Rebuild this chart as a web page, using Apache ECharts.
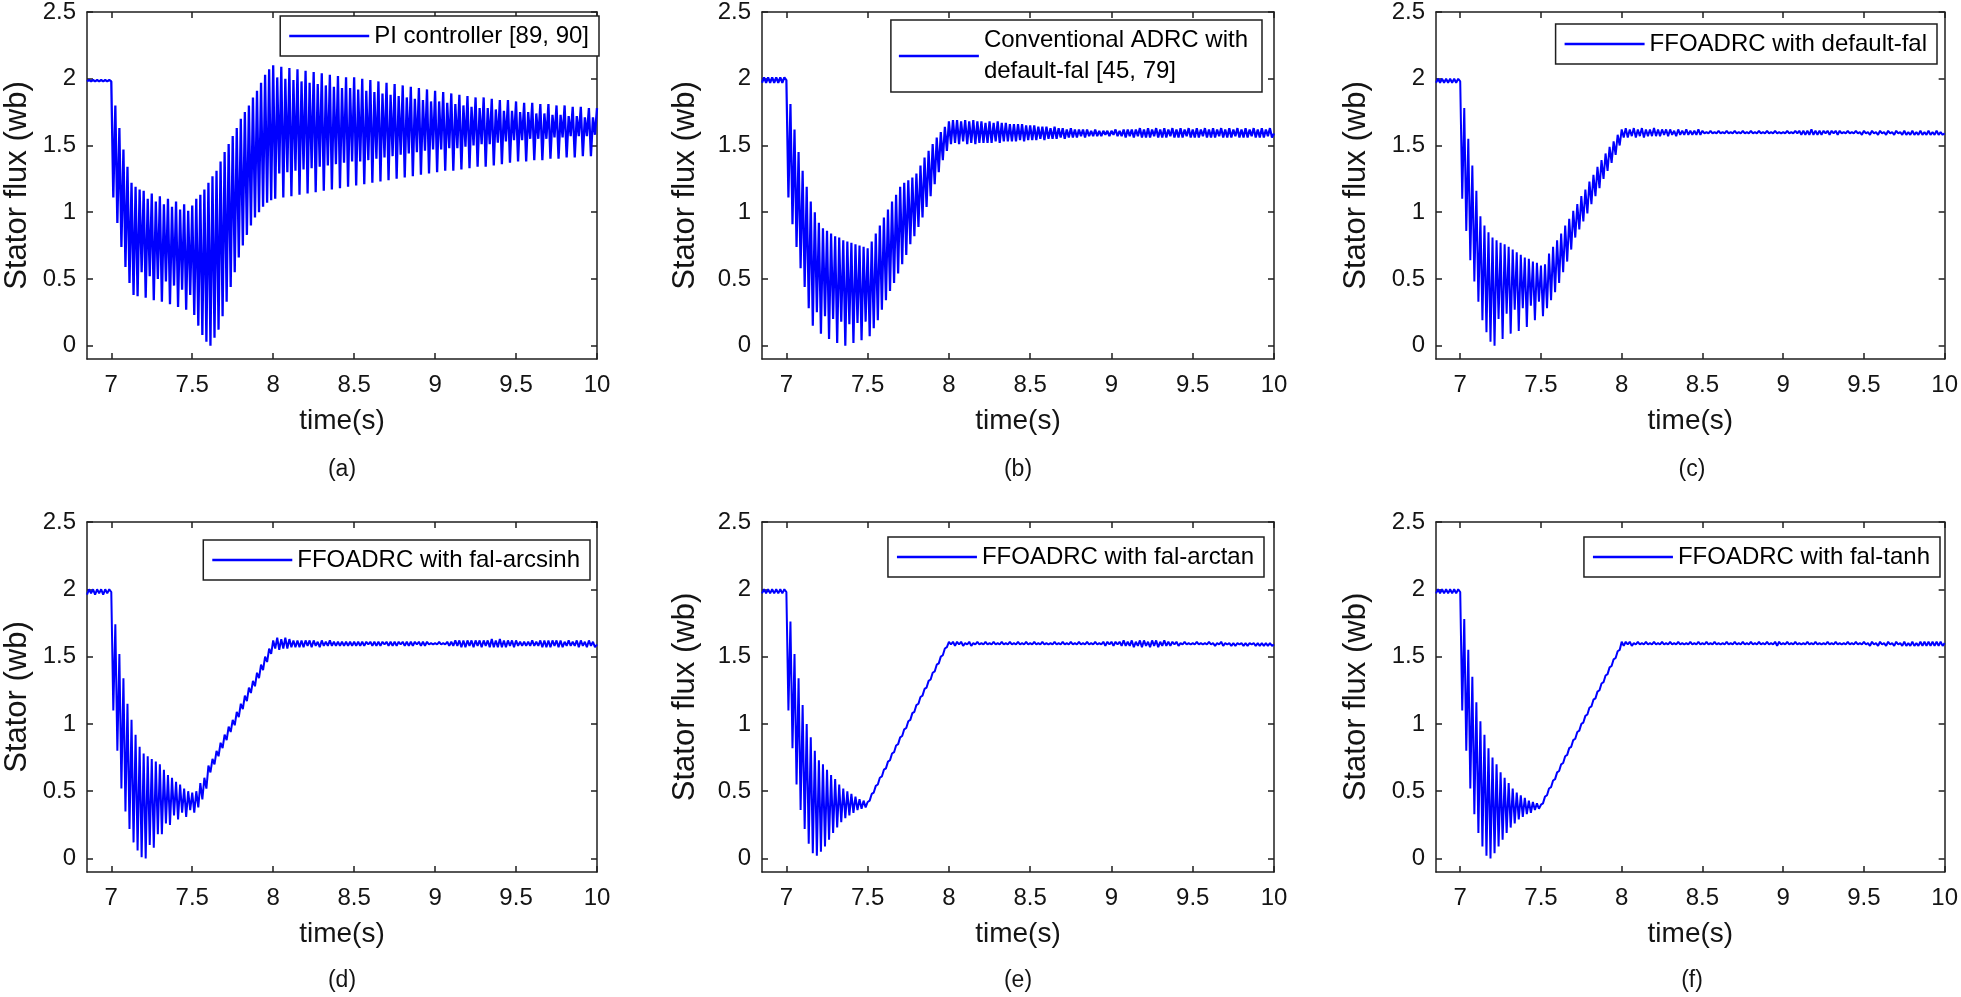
<!DOCTYPE html>
<html><head><meta charset="utf-8">
<script src="https://cdn.jsdelivr.net/npm/echarts@6/dist/echarts.min.js"></script>
<style>html,body{margin:0;padding:0;background:#fff}#c{width:1961px;height:997px}</style>
</head><body><div id="c"></div>
<script>
// ---- sampling of the time axis (s) ----
const sampleStart = 6.85, sampleStep = 0.0125;
const xTicks = [7, 7.5, 8, 8.5, 9, 9.5, 10];
const xTickLabels = ['7', '7.5', '8', '8.5', '9', '9.5', '10'];
const yTicks = [0, 0.5, 1, 1.5, 2, 2.5];
const yTickLabels = ['0', '0.5', '1', '1.5', '2', '2.5'];
const panelLabels = ['(a)', '(b)', '(c)', '(d)', '(e)', '(f)'];
const legendNames = ['PI controller [89, 90]', 'Conventional ADRC with\ndefault-fal [45, 79]', 'FFOADRC with default-fal',
  'FFOADRC with fal-arcsinh', 'FFOADRC with fal-arctan', 'FFOADRC with fal-tanh'];
const yNames = ['Stator flux (wb)', 'Stator flux (wb)', 'Stator flux (wb)', 'Stator (wb)', 'Stator flux (wb)', 'Stator flux (wb)'];
const xName = 'time(s)';

// ---- stator flux (wb), one value per sample ----
const fluxA = [
1.98,1.99,1.98,1.99,1.98,1.99,1.98,1.99,1.98,1.99,1.98,1.99,
1.98,1.11,1.80,0.92,1.63,0.74,1.47,0.59,1.34,0.47,
1.22,0.38,1.19,0.37,1.17,0.55,1.16,0.36,1.10,0.52,
1.14,0.34,1.08,0.50,1.12,0.33,1.06,0.48,1.10,0.31,
1.04,0.45,1.08,0.29,1.02,0.42,1.06,0.27,1.01,0.38,
1.05,0.23,1.10,0.15,1.13,0.08,1.17,0.03,1.22,0.00,
1.27,0.06,1.31,0.12,1.38,0.22,1.45,0.33,1.51,0.44,
1.57,0.55,1.63,0.66,1.70,0.75,1.75,0.83,1.80,0.90,
1.86,0.96,1.91,1.00,1.97,1.04,2.03,1.07,2.07,1.09,
2.10,1.10,2.01,1.29,2.09,1.11,2.00,1.30,2.08,1.12,
1.99,1.31,2.07,1.13,1.98,1.32,2.06,1.14,1.97,1.33,
2.05,1.15,1.96,1.34,2.04,1.16,1.95,1.35,2.03,1.17,
1.94,1.36,2.02,1.18,1.93,1.37,2.01,1.19,1.93,1.38,
2.01,1.20,1.92,1.38,2.00,1.21,1.91,1.39,1.99,1.22,
1.90,1.40,1.98,1.23,1.89,1.41,1.97,1.24,1.88,1.42,
1.96,1.25,1.87,1.43,1.95,1.26,1.86,1.44,1.94,1.27,
1.85,1.45,1.93,1.28,1.84,1.46,1.92,1.29,1.83,1.47,
1.91,1.30,1.83,1.47,1.90,1.31,1.82,1.48,1.89,1.31,
1.81,1.48,1.88,1.32,1.80,1.49,1.87,1.33,1.79,1.50,
1.86,1.34,1.78,1.51,1.86,1.34,1.78,1.51,1.85,1.35,
1.77,1.52,1.84,1.36,1.76,1.53,1.84,1.37,1.76,1.54,
1.83,1.38,1.75,1.54,1.82,1.38,1.75,1.55,1.82,1.39,
1.74,1.55,1.81,1.39,1.74,1.55,1.81,1.40,1.73,1.56,
1.80,1.40,1.73,1.56,1.80,1.41,1.72,1.57,1.79,1.41,
1.72,1.57,1.79,1.42,1.71,1.57,1.78,1.42,1.71,1.58,
1.78];
const fluxB = [
1.97,2.01,1.97,2.01,1.97,2.01,1.97,2.01,1.97,2.01,1.97,2.01,
1.99,1.11,1.81,0.91,1.62,0.74,1.45,0.58,1.31,0.44,
1.19,0.28,1.08,0.15,1.00,0.25,0.92,0.09,0.88,0.22,
0.86,0.05,0.84,0.20,0.82,0.02,0.81,0.18,0.79,0.00,
0.78,0.16,0.77,0.02,0.76,0.17,0.75,0.04,0.74,0.18,
0.73,0.07,0.78,0.13,0.84,0.19,0.90,0.27,0.96,0.34,
1.02,0.41,1.08,0.47,1.13,0.54,1.19,0.61,1.22,0.68,
1.24,0.76,1.26,0.82,1.29,0.89,1.35,0.96,1.41,1.04,
1.46,1.12,1.51,1.21,1.56,1.30,1.60,1.39,1.64,1.46,
1.68,1.51,1.69,1.52,1.69,1.51,1.68,1.53,1.69,1.51,
1.68,1.52,1.69,1.51,1.68,1.52,1.68,1.52,1.67,1.52,
1.68,1.52,1.67,1.53,1.68,1.52,1.67,1.53,1.67,1.53,
1.66,1.53,1.66,1.53,1.66,1.54,1.66,1.53,1.65,1.54,
1.65,1.54,1.65,1.54,1.64,1.55,1.64,1.54,1.64,1.55,
1.63,1.55,1.64,1.55,1.63,1.56,1.63,1.55,1.62,1.56,
1.63,1.56,1.62,1.56,1.62,1.57,1.62,1.56,1.62,1.57,
1.61,1.57,1.62,1.57,1.61,1.57,1.61,1.58,1.61,1.57,
1.61,1.58,1.62,1.57,1.61,1.57,1.62,1.56,1.62,1.57,
1.62,1.56,1.62,1.57,1.63,1.56,1.62,1.56,1.63,1.56,
1.62,1.57,1.63,1.56,1.62,1.56,1.63,1.56,1.62,1.57,
1.63,1.56,1.62,1.56,1.63,1.56,1.62,1.57,1.63,1.56,
1.62,1.56,1.63,1.56,1.62,1.57,1.63,1.56,1.62,1.56,
1.63,1.56,1.62,1.57,1.63,1.56,1.62,1.56,1.63,1.56,
1.62,1.57,1.63,1.56,1.62,1.56,1.63,1.56,1.62,1.57,
1.63,1.56,1.62,1.56,1.63,1.56,1.62,1.57,1.63,1.56,
1.59];
const fluxC = [
1.97,2.00,1.97,2.00,1.97,2.00,1.97,2.00,1.97,2.00,1.97,2.00,
1.98,1.10,1.78,0.86,1.55,0.64,1.35,0.48,1.16,0.33,
0.97,0.19,0.90,0.10,0.85,0.03,0.81,0.00,0.79,0.20,
0.77,0.05,0.76,0.24,0.74,0.09,0.72,0.27,0.70,0.11,
0.68,0.28,0.66,0.14,0.65,0.30,0.63,0.19,0.62,0.33,
0.60,0.22,0.61,0.28,0.69,0.34,0.74,0.40,0.79,0.47,
0.84,0.55,0.90,0.63,0.95,0.72,1.01,0.81,1.06,0.87,
1.12,0.93,1.17,0.99,1.23,1.06,1.28,1.12,1.34,1.18,
1.39,1.25,1.44,1.31,1.49,1.37,1.53,1.43,1.58,1.50,
1.62,1.56,1.63,1.56,1.62,1.57,1.63,1.56,1.62,1.57,
1.63,1.56,1.62,1.57,1.62,1.57,1.63,1.57,1.62,1.57,
1.62,1.58,1.62,1.57,1.62,1.58,1.61,1.57,1.62,1.58,
1.61,1.58,1.62,1.58,1.61,1.58,1.61,1.58,1.62,1.58,
1.61,1.59,1.60,1.59,1.61,1.59,1.60,1.59,1.61,1.59,
1.60,1.59,1.61,1.59,1.60,1.59,1.61,1.59,1.60,1.59,
1.61,1.59,1.60,1.59,1.61,1.59,1.60,1.59,1.61,1.59,
1.60,1.59,1.61,1.59,1.60,1.59,1.61,1.59,1.60,1.59,
1.60,1.59,1.61,1.59,1.60,1.59,1.61,1.59,1.61,1.58,
1.61,1.58,1.61,1.58,1.62,1.58,1.61,1.58,1.61,1.58,
1.61,1.59,1.61,1.58,1.61,1.59,1.61,1.58,1.61,1.59,
1.60,1.59,1.61,1.59,1.60,1.59,1.61,1.59,1.60,1.58,
1.61,1.59,1.60,1.58,1.61,1.59,1.60,1.58,1.61,1.59,
1.60,1.58,1.61,1.59,1.60,1.58,1.61,1.59,1.60,1.58,
1.61,1.58,1.60,1.58,1.61,1.58,1.60,1.58,1.61,1.58,
1.60,1.58,1.61,1.58,1.60,1.58,1.61,1.58,1.60,1.58,
1.59];
const fluxD = [
1.96,2.00,1.97,2.00,1.96,2.00,1.97,2.00,1.96,2.00,1.97,2.00,
1.98,1.10,1.74,0.80,1.52,0.52,1.34,0.35,1.15,0.22,
1.03,0.12,0.92,0.06,0.83,0.01,0.78,0.00,0.76,0.10,
0.74,0.08,0.72,0.18,0.70,0.18,0.66,0.26,0.62,0.25,
0.60,0.32,0.57,0.29,0.55,0.34,0.52,0.31,0.50,0.36,
0.49,0.34,0.50,0.38,0.56,0.44,0.60,0.52,0.69,0.64,
0.74,0.70,0.80,0.76,0.86,0.82,0.92,0.88,0.98,0.94,
1.03,0.99,1.09,1.05,1.15,1.11,1.21,1.17,1.27,1.23,
1.32,1.28,1.38,1.34,1.44,1.40,1.50,1.46,1.56,1.52,
1.62,1.56,1.64,1.55,1.63,1.56,1.64,1.56,1.63,1.57,
1.62,1.57,1.62,1.57,1.62,1.57,1.62,1.58,1.62,1.57,
1.62,1.58,1.61,1.57,1.62,1.58,1.61,1.58,1.62,1.58,
1.61,1.58,1.61,1.58,1.61,1.58,1.61,1.58,1.61,1.58,
1.61,1.58,1.61,1.58,1.61,1.58,1.61,1.59,1.61,1.58,
1.61,1.58,1.61,1.58,1.61,1.59,1.61,1.58,1.61,1.58,
1.61,1.58,1.61,1.59,1.61,1.58,1.61,1.58,1.61,1.58,
1.61,1.59,1.61,1.58,1.61,1.58,1.61,1.59,1.60,1.59,
1.60,1.59,1.61,1.59,1.60,1.59,1.61,1.58,1.61,1.58,
1.62,1.58,1.62,1.57,1.62,1.57,1.62,1.58,1.62,1.57,
1.62,1.58,1.62,1.57,1.62,1.58,1.62,1.57,1.63,1.57,
1.62,1.57,1.63,1.57,1.62,1.57,1.62,1.58,1.62,1.57,
1.62,1.58,1.61,1.58,1.61,1.58,1.61,1.58,1.62,1.58,
1.61,1.58,1.62,1.57,1.62,1.57,1.62,1.57,1.62,1.58,
1.62,1.57,1.62,1.57,1.61,1.58,1.62,1.58,1.61,1.58,
1.62,1.57,1.62,1.58,1.61,1.57,1.62,1.58,1.61,1.57,
1.59];
const fluxE = [
1.97,2.00,1.97,2.00,1.97,2.00,1.97,2.00,1.97,2.00,1.97,2.00,
1.98,1.10,1.76,0.82,1.52,0.55,1.34,0.36,1.14,0.22,
1.00,0.11,0.90,0.04,0.80,0.02,0.73,0.05,0.70,0.09,
0.66,0.14,0.62,0.19,0.59,0.23,0.55,0.27,0.52,0.30,
0.50,0.32,0.48,0.34,0.46,0.36,0.44,0.37,0.43,0.38,
0.42,0.43,0.48,0.49,0.54,0.55,0.60,0.61,0.66,0.67,
0.72,0.73,0.78,0.79,0.84,0.85,0.90,0.91,0.96,0.97,
1.02,1.03,1.08,1.09,1.14,1.15,1.20,1.21,1.26,1.27,
1.32,1.33,1.38,1.39,1.44,1.45,1.50,1.51,1.56,1.57,
1.61,1.59,1.61,1.58,1.61,1.59,1.61,1.58,1.60,1.59,
1.61,1.58,1.60,1.59,1.61,1.59,1.60,1.59,1.61,1.59,
1.60,1.59,1.61,1.59,1.60,1.59,1.61,1.59,1.60,1.59,
1.61,1.59,1.60,1.59,1.61,1.59,1.60,1.59,1.61,1.59,
1.60,1.59,1.61,1.59,1.60,1.59,1.61,1.59,1.60,1.59,
1.60,1.59,1.61,1.59,1.60,1.59,1.61,1.59,1.60,1.59,
1.61,1.59,1.60,1.59,1.61,1.59,1.60,1.59,1.61,1.59,
1.60,1.59,1.61,1.59,1.60,1.59,1.61,1.58,1.61,1.59,
1.61,1.58,1.61,1.59,1.61,1.58,1.62,1.58,1.61,1.58,
1.62,1.57,1.61,1.58,1.62,1.57,1.62,1.58,1.61,1.57,
1.62,1.58,1.62,1.57,1.61,1.58,1.62,1.58,1.61,1.58,
1.61,1.59,1.61,1.58,1.60,1.59,1.61,1.59,1.60,1.59,
1.60,1.59,1.61,1.59,1.60,1.59,1.60,1.59,1.61,1.59,
1.60,1.58,1.60,1.59,1.61,1.58,1.60,1.59,1.60,1.58,
1.60,1.58,1.60,1.59,1.60,1.58,1.60,1.58,1.60,1.59,
1.60,1.58,1.60,1.58,1.60,1.58,1.60,1.58,1.60,1.58,
1.59];
const fluxF = [
1.97,2.00,1.97,2.00,1.97,2.00,1.97,2.00,1.97,2.00,1.97,2.00,
1.98,1.10,1.78,0.80,1.55,0.52,1.35,0.33,1.16,0.19,
1.02,0.09,0.92,0.02,0.82,0.00,0.75,0.04,0.70,0.09,
0.64,0.14,0.60,0.19,0.56,0.23,0.52,0.26,0.49,0.29,
0.47,0.31,0.45,0.33,0.43,0.34,0.42,0.36,0.41,0.37,
0.40,0.41,0.46,0.47,0.52,0.53,0.58,0.59,0.64,0.65,
0.70,0.71,0.76,0.77,0.82,0.83,0.88,0.89,0.94,0.95,
1.00,1.01,1.06,1.07,1.12,1.13,1.18,1.19,1.24,1.25,
1.30,1.31,1.36,1.37,1.42,1.43,1.48,1.49,1.54,1.55,
1.61,1.58,1.61,1.59,1.61,1.58,1.60,1.59,1.61,1.59,
1.60,1.59,1.61,1.59,1.60,1.59,1.61,1.59,1.60,1.59,
1.61,1.59,1.60,1.59,1.61,1.59,1.60,1.59,1.61,1.59,
1.60,1.59,1.60,1.59,1.61,1.59,1.60,1.59,1.61,1.59,
1.60,1.59,1.61,1.59,1.60,1.59,1.61,1.59,1.60,1.59,
1.60,1.59,1.61,1.59,1.60,1.59,1.61,1.59,1.60,1.59,
1.61,1.59,1.60,1.59,1.61,1.59,1.60,1.59,1.61,1.59,
1.60,1.59,1.61,1.59,1.60,1.59,1.61,1.58,1.61,1.59,
1.60,1.59,1.61,1.59,1.60,1.59,1.61,1.59,1.60,1.59,
1.60,1.59,1.61,1.59,1.60,1.59,1.61,1.59,1.60,1.59,
1.60,1.59,1.61,1.59,1.60,1.59,1.61,1.59,1.60,1.59,
1.60,1.59,1.61,1.59,1.60,1.59,1.61,1.59,1.60,1.59,
1.61,1.59,1.60,1.58,1.61,1.59,1.60,1.58,1.61,1.59,
1.60,1.58,1.61,1.59,1.60,1.58,1.61,1.59,1.60,1.58,
1.61,1.58,1.60,1.58,1.61,1.58,1.60,1.58,1.61,1.58,
1.61,1.58,1.61,1.58,1.61,1.58,1.61,1.58,1.61,1.58,
1.60];
const fluxSeries = [fluxA, fluxB, fluxC, fluxD, fluxE, fluxF];

// ---- layout (pixels) and per-panel line width ----
const layout = [
  {l: 87,   t: 9,   w: 510, h: 350, lgR: 1362, lgT: 16,  yGap: 54, lab: [342, 470],  lw: 2.3},
  {l: 762,  t: 9,   w: 512, h: 350, lgR: 699,  lgT: 20,  yGap: 61, lab: [1018, 470], lw: 2.2},
  {l: 1436, t: 9,   w: 513, h: 350, lgR: 24,   lgT: 24,  yGap: 64, lab: [1692, 470], lw: 2.0},
  {l: 87,   t: 522, w: 510, h: 350, lgR: 1371, lgT: 540, yGap: 54, lab: [342, 981],  lw: 2.0},
  {l: 762,  t: 522, w: 512, h: 350, lgR: 697,  lgT: 537, yGap: 61, lab: [1018, 981], lw: 2.0},
  {l: 1436, t: 522, w: 513, h: 350, lgR: 21,   lgT: 537, yGap: 64, lab: [1692, 981], lw: 2.0}
];

const FONT = '"Liberation Sans", Arial, Helvetica, sans-serif';
const AX = '#1f1f1f';
const TXT = '#141414';
const LINE = '#0000ff';

const grids = [], xAxes = [], yAxes = [], series = [], legends = [], graphics = [];
layout.forEach((p, k) => {
  grids.push({left: p.l, top: p.t, width: p.w, height: p.h, containLabel: false});
  const axLine = {show: true, onZero: false, lineStyle: {color: AX, width: 1.5}};
  const xTick = {show: true, inside: true, length: 6, customValues: xTicks, lineStyle: {color: AX, width: 1.5}};
  const yTick = {show: true, inside: true, length: 6, customValues: yTicks, lineStyle: {color: AX, width: 1.5}};
  xAxes.push({
    type: 'value', gridIndex: k, position: 'bottom', min: 6.85, max: 10,
    axisLine: axLine, axisTick: xTick, splitLine: {show: false},
    axisLabel: {customValues: xTicks, formatter: v => xTickLabels[xTicks.indexOf(v)] ?? String(v),
      margin: 14, fontSize: 24, color: TXT, fontFamily: FONT},
    name: xName, nameLocation: 'middle', nameGap: 48,
    nameTextStyle: {fontSize: 28, color: TXT, fontFamily: FONT}
  });
  xAxes.push({
    type: 'value', gridIndex: k, position: 'top', min: 6.85, max: 10,
    axisLine: axLine, axisTick: xTick, splitLine: {show: false}, axisLabel: {show: false}
  });
  yAxes.push({
    type: 'value', gridIndex: k, position: 'left', min: -0.1, max: 2.5,
    axisLine: axLine, axisTick: yTick, splitLine: {show: false},
    axisLabel: {customValues: yTicks, formatter: v => yTickLabels[yTicks.indexOf(v)] ?? String(v),
      margin: 11, fontSize: 24, color: TXT, fontFamily: FONT},
    name: yNames[k], nameLocation: 'middle', nameGap: p.yGap,
    nameTextStyle: {fontSize: 31, color: TXT, fontFamily: FONT}
  });
  yAxes.push({
    type: 'value', gridIndex: k, position: 'right', min: -0.1, max: 2.5,
    axisLine: axLine, axisTick: yTick, splitLine: {show: false}, axisLabel: {show: false}
  });
  const vals = fluxSeries[k];
  series.push({
    type: 'line', name: legendNames[k], xAxisIndex: 2 * k, yAxisIndex: 2 * k,
    data: vals.map((v, i) => [sampleStart + i * sampleStep, v]),
    symbol: 'none', showSymbol: false, clip: true,
    lineStyle: {color: LINE, width: p.lw}, itemStyle: {color: LINE}
  });
  const twoLine = legendNames[k].includes('\n');
  legends.push({
    show: true, right: p.lgR, top: p.lgT, data: [legendNames[k]], selectedMode: false,
    icon: 'rect', itemWidth: 80, itemHeight: 2.5, itemGap: 0,
    padding: twoLine ? [5, 14, 5, 8] : [8, 10, 8, 9],
    borderColor: AX, borderWidth: 1.5, backgroundColor: '#fff',
    textStyle: {fontSize: 24, color: '#000', fontFamily: FONT, lineHeight: twoLine ? 31 : 24}
  });
  graphics.push({
    type: 'text', x: p.lab[0], y: p.lab[1],
    style: {text: panelLabels[k], fontSize: 23, fontFamily: FONT, fill: TXT, align: 'center', verticalAlign: 'middle'}
  });
});

const chart = echarts.init(document.getElementById('c'), null, {renderer: 'canvas'});
chart.setOption({
  animation: false,
  backgroundColor: '#fff',
  grid: grids, xAxis: xAxes, yAxis: yAxes, series: series, legend: legends,
  graphic: graphics
});
</script></body></html>
